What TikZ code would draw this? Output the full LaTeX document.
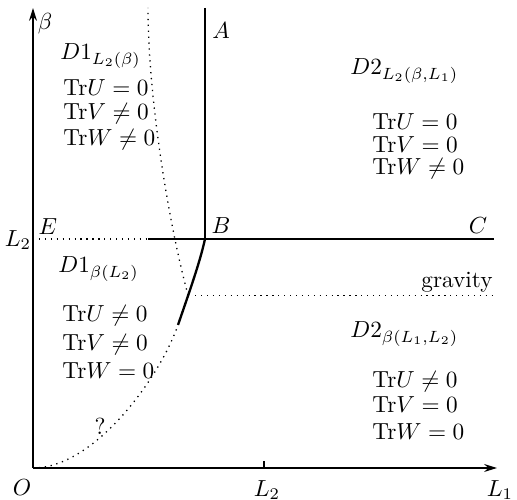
\documentclass[tikz,border=0pt]{standalone}
\usepackage{amsmath,amssymb}
\usepackage{tikz}
\usetikzlibrary{arrows.meta,calc}
\newcommand{\Tr}{\mathrm{Tr}}
\tikzset{
  axis/.style  = {line width=0.6pt, -{Stealth[length=5.5pt, width=3.4pt]}},
  bound/.style = {line width=1pt},
  guide/.style = {line width=0.55pt, dotted},
  tick/.style  = {line width=0.6pt},
  lbl/.style   = {inner sep=0pt},
  tr/.style    = {inner sep=0pt, anchor=base west},
}
\begin{document}
\begin{tikzpicture}[x=0.43pt, y=-0.43pt]
  \useasboundingbox (0,0) rectangle (517,500);
  % points of the diagram (pixel grid, y downwards)
  \coordinate (O)    at (33,468);
  \coordinate (Xend) at (497,468);
  \coordinate (Yend) at (33,8);
  \coordinate (Tk)   at (264,468);
  \coordinate (E0)   at (33,239);
  \coordinate (S)    at (148,239);
  \coordinate (B)    at (205,239);
  \coordinate (Atop) at (205,8);
  \coordinate (Cend) at (494,239);
  \coordinate (P)    at (178,325);
  \coordinate (T)    at (148,8);

  % axes
  \draw[axis] (O) -- (Xend);
  \draw[axis] (O) -- (Yend);
  \draw[tick] (Tk) -- ++(0,-7);

  % phase boundaries
  \draw[guide] (E0) -- (S);
  \draw[bound] (S) -- (Cend);
  \draw[bound] (Atop) -- (B);
  \draw[guide] (O) .. controls (95,468) and (160,377) .. (P);
  \draw[bound] (P) .. controls (190,290) and (200,262) .. (B)
        coordinate[pos=0.3] (J);
  \draw[guide] (J) .. controls (170,230) and (148,100) .. (T);
  \draw[guide, shorten <=3pt] (J) -- (J -| Cend);

  % axis labels
  \node[lbl] (beta) at (45,24)  {$\beta$};
  \node[lbl] (lO)   at (22,488) {$O$};
  \node[lbl] (lL2x) at (267,490) {$L_2$};
  \node[lbl] (lL1)  at (500,490) {$L_1$};
  \node[lbl] (lL2y) at (18,240) {$L_2$};

  % point labels
  \node[lbl] (lA) at (221,31)  {$A$};
  \node[lbl] (lB) at (221,226) {$B$};
  \node[lbl] (lC) at (478,226) {$C$};
  \node[lbl] (lE) at (48,227)  {$E$};
  \node[inner sep=0pt, anchor=base east] (grav) at (493,288) {gravity};
  \node[lbl] (qm) at (100,426) {?};

  % region D1 above L2
  \node[tr] (d1a) at (60,60)  {$D1_{L_2(\beta)}$};
  \node[tr] (ua)  at (63,96)  {$\Tr U=0$};
  \node[tr] (va)  at (63,120) {$\Tr V\neq0$};
  \node[tr] (wa)  at (63,146) {$\Tr W\neq0$};

  % region D2 above L2
  \node[tr] (d2a) at (350,75)  {$D2_{L_2(\beta,L_1)}$};
  \node[tr] (ub)  at (372,130) {$\Tr U=0$};
  \node[tr] (vb)  at (372,153) {$\Tr V=0$};
  \node[tr] (wb)  at (372,175) {$\Tr W\neq0$};

  % region D1 below L2
  \node[tr] (d1b) at (58,273)  {$D1_{\beta(L_2)}$};
  \node[tr] (uc)  at (62,322)  {$\Tr U\neq0$};
  \node[tr] (vc)  at (62,351)  {$\Tr V\neq0$};
  \node[tr] (wc)  at (62,379)  {$\Tr W=0$};

  % region D2 below L2
  \node[tr] (d2b) at (350,338) {$D2_{\beta(L_1,L_2)}$};
  \node[tr] (ud)  at (372,388) {$\Tr U\neq0$};
  \node[tr] (vd)  at (372,413) {$\Tr V=0$};
  \node[tr] (wd)  at (372,440) {$\Tr W=0$};
\end{tikzpicture}
\end{document}
